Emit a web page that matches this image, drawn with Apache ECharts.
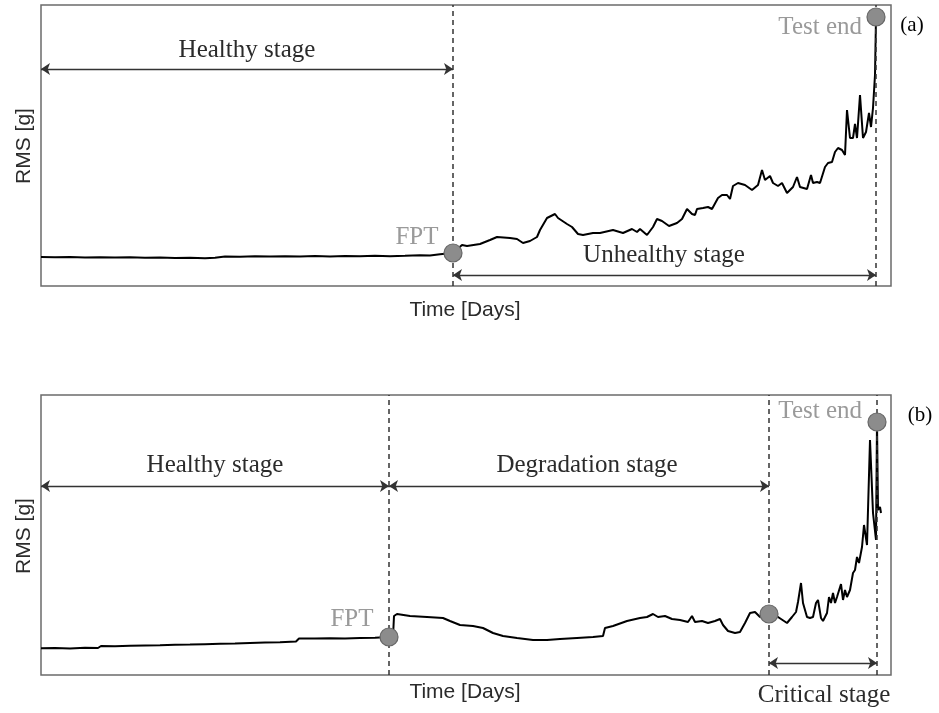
<!DOCTYPE html>
<html>
<head>
<meta charset="utf-8">
<script src="https://cdn.jsdelivr.net/npm/echarts@6/dist/echarts.min.js"></script>
<style>
  html, body { margin: 0; padding: 0; background: #fff; }
  #chart { width: 939px; height: 713px; }
</style>
</head>
<body>
<div id="chart"></div>
<script>
// ---- Run (a): RMS trend over the whole test ----
const timeA = [0, 14, 29, 44, 59, 74, 89, 104, 119, 134, 149, 164, 174, 184, 199, 214, 229, 244, 259, 274,
  289, 304, 319, 334, 349, 364, 379, 389, 399, 412,
  421, 426, 439, 449, 456, 469, 476, 482, 489, 496, 499, 506, 514, 517, 526, 531, 537, 542, 552, 559,
  572, 582, 591, 596, 599, 606, 612, 616, 621, 628, 636, 641, 646, 651, 654, 656, 662, 667, 671, 677,
  681, 686, 689, 692, 697, 704, 711, 717, 721, 724, 729, 732, 737, 741, 746, 752, 756, 759, 766, 770,
  772, 776, 779, 784, 787, 791, 794, 797, 801, 804, 806, 809, 812, 814, 816, 819, 822, 825, 828, 830,
  832, 834, 835];
const rmsA = [29, 28.7, 29, 28.5, 28.8, 28.4, 28.7, 28.2, 28.4, 28, 28.2, 27.7, 28.2, 29.5, 29.2, 29.7, 29.4, 29.8, 29.6, 29.9,
  29.5, 30, 29.7, 30.2, 29.8, 30.2, 30.8, 30.5, 31.8, 33,
  41, 40, 42, 46, 49, 48, 47, 43, 45, 49, 56, 68, 72, 68, 62, 59, 52, 51, 53, 53,
  56, 53, 57, 54, 57, 51, 59, 67, 65, 60, 63, 67, 77, 72, 71, 77, 78, 79, 77, 88,
  91, 91, 87, 100, 103, 101, 96, 101, 116, 106, 110, 103, 100, 103, 93, 99, 109, 99, 97, 111,
  103, 104, 103, 119, 123, 124, 134, 138, 136, 131, 176, 148, 148, 162, 148, 191, 148, 154, 173, 159,
  178, 211, 269];

// ---- Run (b): RMS trend over the whole test ----
const timeB = [0, 14, 29, 44, 57, 60, 74, 89, 104, 119, 134, 149, 164, 179, 194, 209, 224, 239, 255, 258,
  274, 289, 304, 319, 334, 348,
  352, 353, 356, 369, 386, 402, 409, 419, 432, 442, 452, 462, 476, 492, 506, 519, 536, 552, 562, 564,
  572, 586, 599, 606, 612, 617, 624, 631, 639, 647, 651, 654, 661, 667, 674, 679, 682, 687, 694, 699,
  704, 709, 714, 719, 728,
  737, 746, 751, 755, 757, 760, 762, 766, 769, 772, 775, 777, 780, 782, 786, 788, 790, 792, 794, 796,
  800, 802, 804, 806, 809, 812, 814, 816, 818, 821, 823, 826, 829, 832, 835, 836, 837, 839, 840];
const rmsB = [26.7, 27, 26.6, 27.2, 27, 29, 28.8, 29.2, 29.5, 29.8, 30.2, 30.4, 30.8, 31.2, 31.5, 32, 32.4, 32.8, 33.5, 36.5,
  36.4, 36.8, 36.6, 37, 37.2, 38,
  38, 59, 61, 59, 58, 57, 54, 50, 49, 47, 42, 39, 37, 35, 35, 36, 37, 38, 39, 47,
  49, 54, 57, 58, 61, 58, 59, 56, 55, 53, 59, 53, 54, 52, 54, 56, 50, 44, 42, 43,
  52, 62, 63, 58, 61,
  58, 52, 58, 63, 73, 92, 72, 58, 57, 58, 72, 75, 57, 54, 62, 78, 72, 82, 72, 78,
  91, 75, 85, 78, 85, 102, 105, 118, 112, 128, 150, 130, 235, 162, 135, 253, 165, 168, 162];

// Stage boundaries, in days
const fptA = 412, endA = 835;
const fptB = 348, criticalB = 728, endB = 836;

// Axis extents
const timeMax = 850;
const rmsMaxA = 281;
const rmsMaxB = 280;

const zip = (xs, ys) => xs.map((x, i) => [x, ys[i]]);
const valueAt = (xs, ys, t) => ys[xs.indexOf(t)];

const SERIF = '"Liberation Serif", "Times New Roman", serif';
const SANS = '"Liberation Sans", Arial, sans-serif';
const DARK = '#2b2b2b';
const GREY_TXT = '#9a9a9a';

const dashed = { color: '#333', width: 1.5, type: [5, 4] };
const arrowLine = { color: '#333', width: 1.3, type: 'solid' };

function vLines(values) {
  return {
    silent: true, symbol: 'none', animation: false,
    label: { show: false }, lineStyle: dashed,
    data: values.map(v => ({ xAxis: v }))
  };
}
function arrows(spans) {
  return {
    silent: true, symbol: ['arrow', 'arrow'], symbolSize: 9, animation: false,
    label: { show: false }, lineStyle: arrowLine, itemStyle: { color: '#333' },
    data: spans.map(s => [{ coord: [s[0], s[2]] }, { coord: [s[1], s[2]] }])
  };
}

const markerStyle = { color: '#8c8c8c', borderColor: '#666', borderWidth: 1.2, opacity: 1 };
const hiddenAxis = { axisLine: { show: false }, axisTick: { show: false }, axisLabel: { show: false }, splitLine: { show: false } };

function text(t, x, y, font, size, color, align, extra) {
  return Object.assign({
    type: 'text', x: x, y: y, z: 100,
    style: { text: t, fontFamily: font, fontSize: size, fill: color, align: align || 'center', verticalAlign: 'middle' }
  }, extra || {});
}

const chart = echarts.init(document.getElementById('chart'), null, { renderer: 'canvas' });

chart.setOption({
  animation: false,
  backgroundColor: '#fff',
  grid: [
    { left: 41, top: 5, width: 850, height: 281, show: true, borderColor: '#6b6b6b', borderWidth: 1.5, backgroundColor: 'transparent' },
    { left: 41, top: 395, width: 850, height: 280, show: true, borderColor: '#6b6b6b', borderWidth: 1.5, backgroundColor: 'transparent' }
  ],
  xAxis: [0, 1].map(i => Object.assign({ type: 'value', gridIndex: i, min: 0, max: timeMax }, hiddenAxis)),
  yAxis: [
    Object.assign({ type: 'value', gridIndex: 0, min: 0, max: rmsMaxA }, hiddenAxis),
    Object.assign({ type: 'value', gridIndex: 1, min: 0, max: rmsMaxB }, hiddenAxis)
  ],
  series: [
    // stage boundaries and stage arrows, drawn beneath the curves
    { type: 'line', xAxisIndex: 0, yAxisIndex: 0, data: [], z: 1, markLine: vLines([fptA, endA]) },
    { type: 'line', xAxisIndex: 0, yAxisIndex: 0, data: [], z: 1, markLine: arrows([[0, fptA, 217], [fptA, endA, 11]]) },
    { type: 'line', xAxisIndex: 1, yAxisIndex: 1, data: [], z: 1, markLine: vLines([fptB, criticalB, endB]) },
    { type: 'line', xAxisIndex: 1, yAxisIndex: 1, data: [], z: 1, markLine: arrows([[0, fptB, 189], [fptB, criticalB, 189], [criticalB, endB, 12]]) },
    // RMS curves
    {
      type: 'line', xAxisIndex: 0, yAxisIndex: 0, data: zip(timeA, rmsA),
      showSymbol: false, symbol: 'none', lineStyle: { color: '#000', width: 2 }, z: 3
    },
    {
      type: 'line', xAxisIndex: 1, yAxisIndex: 1, data: zip(timeB, rmsB),
      showSymbol: false, symbol: 'none', lineStyle: { color: '#000', width: 2 }, z: 3
    },
    // FPT / stage-change / test-end markers
    {
      type: 'scatter', xAxisIndex: 0, yAxisIndex: 0,
      data: [[fptA, valueAt(timeA, rmsA, fptA)], [endA, valueAt(timeA, rmsA, endA)]],
      symbolSize: 18, itemStyle: markerStyle, z: 10
    },
    {
      type: 'scatter', xAxisIndex: 1, yAxisIndex: 1,
      data: [[fptB, valueAt(timeB, rmsB, fptB)], [criticalB, valueAt(timeB, rmsB, criticalB)], [endB, valueAt(timeB, rmsB, endB)]],
      symbolSize: 18, itemStyle: markerStyle, z: 10
    }
  ],
  graphic: [
    // panel (a)
    text('Healthy stage', 247, 50, SERIF, 25, DARK),
    text('Unhealthy stage', 664, 255, SERIF, 25, DARK),
    text('FPT', 417, 237, SERIF, 25, GREY_TXT),
    text('Test end', 862, 27, SERIF, 25, GREY_TXT, 'right'),
    text('(a)', 912, 25, SERIF, 21, '#000'),
    text('Time [Days]', 465, 310, SANS, 21, DARK),
    text('RMS [g]', 24, 146, SANS, 21, DARK, 'center', { rotation: Math.PI / 2 }),
    // panel (b)
    text('Healthy stage', 215, 465, SERIF, 25, DARK),
    text('Degradation stage', 587, 465, SERIF, 25, DARK),
    text('FPT', 352, 619, SERIF, 25, GREY_TXT),
    text('Test end', 862, 411, SERIF, 25, GREY_TXT, 'right'),
    text('(b)', 920, 415, SERIF, 21, '#000'),
    text('Critical stage', 824, 695, SERIF, 25, DARK),
    text('Time [Days]', 465, 692, SANS, 21, DARK),
    text('RMS [g]', 24, 536, SANS, 21, DARK, 'center', { rotation: Math.PI / 2 })
  ]
});
</script>
</body>
</html>
